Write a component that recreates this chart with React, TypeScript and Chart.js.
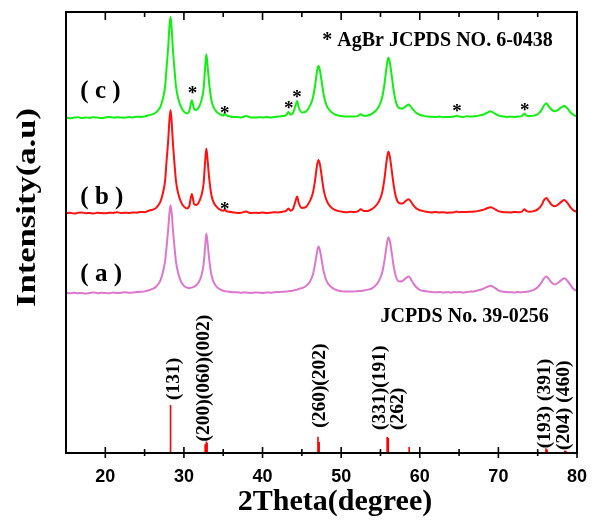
import React, { useEffect, useRef } from 'react';
import { Chart, registerables } from 'chart.js';

Chart.register(...registerables);

// 2Theta positions (degree)
const twoTheta = [
  15, 15.5, 16, 16.5, 17, 17.5, 18, 18.5, 19, 19.5,
  20, 20.5, 21, 21.5, 22, 22.5, 23, 23.5, 24, 24.5,
  25, 25.5, 26, 26.5, 27, 27.3, 27.6, 27.8, 28.0, 28.15,
  28.3, 28.45, 28.6, 28.8, 29.0, 29.3, 29.6, 30.0, 30.4, 30.7,
  31.0, 31.3, 31.6, 31.9, 32.2, 32.5, 32.7, 32.85, 33.0, 33.2,
  33.5, 33.8, 34.2, 34.6, 35.0, 35.2, 35.4, 35.8, 36.3, 36.8,
  37.3, 37.9, 38.5, 39, 39.5, 40, 40.5, 41, 41.5, 42,
  42.5, 43.0, 43.3, 43.6, 43.9, 44.2, 44.4, 44.6, 45.0, 45.5,
  46.0, 46.4, 46.7, 46.9, 47.1, 47.3, 47.5, 47.8, 48.2, 48.7,
  49.2, 49.7, 50.2, 50.7, 51.2, 51.7, 52.1, 52.5, 52.9, 53.4,
  53.9, 54.4, 54.8, 55.2, 55.5, 55.8, 56.0, 56.2, 56.4, 56.7,
  57.0, 57.4, 57.8, 58.2, 58.6, 59.0, 59.5, 60, 60.5, 61,
  61.5, 62, 62.5, 63, 63.5, 64, 64.4, 64.7, 65.0, 65.5,
  66, 66.5, 67, 67.5, 68, 68.5, 69, 69.5, 70, 70.5,
  71, 71.5, 72, 72.5, 73, 73.3, 73.6, 74, 74.5, 75,
  75.5, 75.8, 76.1, 76.4, 76.8, 77.2, 77.6, 78.0, 78.4, 78.8,
  79.2, 79.6, 80,
];

// intensity above each pattern's own baseline (a.u.)
const intensityA = [
  0.1, 0.0, 0.15, 0.05, 0.1, -0.05, 0.1, 0.2, 0.05, 0.15,
  0.1, 0.0, 0.2, 0.1, 0.15, 0.25, 0.15, 0.2, 0.3, 0.35,
  0.45, 0.7, 1.0, 1.6, 2.9, 4.6, 7.3, 10.6, 14.5, 18.0,
  20.0, 18.2, 14.5, 10.5, 7.0, 4.4, 2.8, 1.7, 1.3, 1.2,
  1.3, 1.5, 1.9, 2.6, 3.9, 6.5, 10.6, 13.6, 11.6, 8.0,
  4.2, 2.5, 1.4, 0.9, 0.6, 0.5, 0.45, 0.35, 0.25, 0.25,
  0.15, 0.2, 0.1, 0.2, 0.15, 0.1, 0.2, 0.15, 0.25, 0.3,
  0.35, 0.4, 0.5, 0.55, 0.65, 0.75, 0.85, 1.0, 1.2, 1.6,
  2.6, 4.2, 6.8, 9.0, 10.6, 9.8, 7.8, 4.8, 2.6, 1.5,
  0.9, 0.6, 0.45, 0.4, 0.4, 0.45, 0.5, 0.55, 0.65, 0.85,
  1.1, 1.8, 2.8, 4.6, 7.3, 11.0, 12.7, 11.8, 9.6, 6.0,
  3.6, 2.7, 2.8, 3.4, 3.8, 2.8, 1.5, 0.8, 0.55, 0.4,
  0.3, 0.25, 0.3, 0.2, 0.25, 0.2, 0.3, 0.25, 0.3, 0.2,
  0.3, 0.4, 0.5, 0.7, 1.0, 1.4, 1.7, 1.3, 0.7, 0.4,
  0.3, 0.25, 0.2, 0.3, 0.25, 0.3, 0.35, 0.5, 0.8, 1.4,
  2.5, 3.4, 3.8, 3.3, 2.4, 2.0, 2.4, 3.0, 3.4, 2.8,
  1.8, 0.9, 0.6,
];

const intensityB = [
  0.05, 0.15, -0.05, 0.1, 0.2, 0.0, 0.1, -0.05, 0.15, 0.05,
  0.0, 0.15, 0.1, 0.25, 0.05, 0.15, 0.1, 0.2, 0.15, 0.3,
  0.25, 0.6, 0.8, 1.3, 2.6, 4.4, 7.3, 12.0, 16.5, 21.0,
  23.4, 20.5, 16.0, 11.3, 7.2, 4.3, 2.7, 1.5, 1.1, 1.8,
  4.4, 2.1, 1.9, 2.5, 3.9, 6.7, 11.8, 14.7, 12.3, 8.2,
  4.1, 2.4, 1.4, 0.85, 0.6, 0.8, 0.5, 0.35, 0.2, 0.1,
  0.15, 0.4, 0.05, 0.15, 0.1, 0.2, 0.05, 0.15, 0.25, 0.2,
  0.35, 0.55, 1.1, 0.6, 1.1, 2.8, 3.8, 2.4, 1.2, 1.4,
  2.7, 4.6, 7.7, 10.5, 12.1, 11.1, 8.7, 5.1, 2.7, 1.4,
  0.8, 0.5, 0.35, 0.25, 0.35, 0.3, 0.45, 0.9, 0.5, 0.55,
  0.95, 1.7, 2.7, 4.6, 7.7, 12.1, 14.0, 12.8, 10.2, 6.2,
  3.5, 2.3, 2.2, 2.8, 3.2, 2.3, 1.2, 0.7, 0.5, 0.3,
  0.2, 0.3, 0.2, 0.25, 0.15, 0.2, 0.25, 0.4, 0.25, 0.3,
  0.3, 0.35, 0.4, 0.55, 0.75, 1.1, 1.4, 1.0, 0.5, 0.3,
  0.25, 0.2, 0.3, 0.25, 0.4, 0.9, 0.5, 0.35, 0.5, 0.9,
  1.9, 3.0, 3.5, 2.8, 1.9, 1.6, 2.0, 2.6, 3.0, 2.3,
  1.3, 0.6, 0.35,
];

const intensityC = [
  0.1, -0.1, 0.05, 0.15, -0.05, 0.1, 0.0, 0.15, 0.05, -0.05,
  0.1, 0.2, 0.05, 0.15, 0.1, 0.0, 0.2, 0.1, 0.25, 0.2,
  0.3, 0.6, 0.8, 1.3, 2.5, 4.2, 7.0, 11.5, 16.0, 20.5,
  22.9, 20.0, 15.5, 11.0, 7.0, 4.2, 2.6, 1.4, 1.0, 1.6,
  4.0, 2.0, 1.8, 2.4, 3.8, 6.5, 11.5, 14.4, 12.0, 8.0,
  4.0, 2.3, 1.3, 0.8, 0.55, 0.9, 0.55, 0.35, 0.2, 0.2,
  0.1, 0.4, 0.1, 0.05, 0.15, 0.1, 0.2, 0.1, 0.2, 0.3,
  0.4, 0.6, 1.3, 0.7, 1.2, 2.8, 3.8, 2.4, 1.2, 1.4,
  2.6, 4.5, 7.5, 10.2, 11.8, 10.8, 8.5, 5.0, 2.6, 1.4,
  0.8, 0.5, 0.35, 0.3, 0.3, 0.3, 0.4, 0.8, 0.45, 0.55,
  0.9, 1.6, 2.6, 4.5, 7.5, 11.8, 13.7, 12.5, 10.0, 6.0,
  3.4, 2.2, 2.1, 2.6, 3.0, 2.2, 1.2, 0.7, 0.45, 0.3,
  0.25, 0.2, 0.3, 0.15, 0.2, 0.2, 0.3, 0.5, 0.3, 0.2,
  0.35, 0.3, 0.35, 0.5, 0.7, 1.1, 1.5, 1.0, 0.5, 0.35,
  0.2, 0.25, 0.2, 0.3, 0.4, 1.0, 0.5, 0.4, 0.5, 0.8,
  1.8, 2.8, 3.3, 2.6, 1.8, 1.5, 1.8, 2.4, 2.7, 2.1,
  1.2, 0.6, 0.3,
];

// vertical stacking offsets of the three patterns
const offsetA = 36.2;
const offsetB = 54.35;
const offsetC = 76.0;

// JCPDS No. 39-0256 reference lines
const stickPos = [28.3, 32.7, 32.85, 32.95, 47.05, 47.2, 55.85, 56.0, 58.65, 76.05, 76.2, 78.45, 78.6];
const stickHeight = [10.9, 2.0, 2.6, 2.3, 3.7, 2.5, 3.6, 3.4, 1.35, 1.1, 0.8, 0.55, 0.45];

const stickLabels = ['(131)', '(200)(060)(002)', '(260)(202)', '(331)(191)', '(262)', '(193) (391)', '(204) (460)'];
const stickLabelX = [28.71, 32.6, 47.35, 55.0, 57.28, 75.98, 78.4];
const stickLabelY = [12.0, 2.6, 5.7, 5.2, 5.2, 1.1, 0.7];

// AgBr markers
const starX = [31.1, 35.18, 43.32, 44.39, 64.74, 73.35, 35.18];
const starY = [82.5, 78.0, 79.1, 81.6, 78.3, 78.5, 56.2];

const curveLabels = ['( c )', '( b )', '( a )'];
const curveLabelX = [16.82, 16.82, 16.82];
const curveLabelY = [81.9, 58.0, 40.4];

const xTickValues = [20, 30, 40, 50, 60, 70, 80];
const xMinorValues = [25, 35, 45, 55, 65, 75];

const SERIF = '"Liberation Serif", "Times New Roman", serif';
const SANS = '"Liberation Sans", Arial, sans-serif';

const overlay = {
  id: 'overlay',
  afterDraw(chart: any) {
    const { ctx, chartArea: ca, scales } = chart;
    const xs = scales.x;
    const ys = scales.y;
    ctx.save();
    ctx.strokeStyle = '#000';
    ctx.fillStyle = '#000';
    // frame
    ctx.lineWidth = 2;
    ctx.strokeRect(ca.left, ca.top, ca.right - ca.left, ca.bottom - ca.top);
    // ticks
    const seg = (x1: number, y1: number, x2: number, y2: number) => {
      ctx.beginPath();
      ctx.moveTo(x1, y1);
      ctx.lineTo(x2, y2);
      ctx.stroke();
    };
    ctx.lineWidth = 1.6;
    xTickValues.forEach((v) => {
      const px = xs.getPixelForValue(v);
      seg(px, ca.bottom - 6, px, ca.bottom + 5);
      seg(px, ca.top, px, ca.top + 8);
    });
    xMinorValues.forEach((v) => {
      const px = xs.getPixelForValue(v);
      seg(px, ca.bottom - 4, px, ca.bottom + 3);
      seg(px, ca.top, px, ca.top + 5);
    });

    // curve labels
    ctx.font = `bold 25px ${SERIF}`;
    ctx.textAlign = 'left';
    ctx.textBaseline = 'middle';
    curveLabels.forEach((t, i) => {
      ctx.fillText(t, xs.getPixelForValue(curveLabelX[i]), ys.getPixelForValue(curveLabelY[i]));
    });

    // legend-like texts
    ctx.font = `bold 20px ${SERIF}`;
    ctx.fillText('* AgBr JCPDS NO. 6-0438', xs.getPixelForValue(47.6), ys.getPixelForValue(93.4));
    ctx.fillText('JCPDS No. 39-0256', xs.getPixelForValue(55.0), ys.getPixelForValue(30.8));

    // stars
    ctx.font = `bold 19px ${SERIF}`;
    ctx.textAlign = 'center';
    ctx.textBaseline = 'alphabetic';
    starX.forEach((x, i) => {
      ctx.fillText('*', xs.getPixelForValue(x), ys.getPixelForValue(starY[i]) + 9.5);
    });

    // stick labels (rotated)
    ctx.font = `bold 19.5px ${SERIF}`;
    stickLabels.forEach((t, i) => {
      ctx.save();
      ctx.translate(xs.getPixelForValue(stickLabelX[i]), ys.getPixelForValue(stickLabelY[i]));
      ctx.rotate(-Math.PI / 2);
      ctx.textAlign = 'left';
      ctx.textBaseline = 'middle';
      ctx.fillText(t, 0, 0);
      ctx.restore();
    });

    // x title
    ctx.font = `bold 30px ${SERIF}`;
    ctx.textAlign = 'center';
    ctx.textBaseline = 'alphabetic';
    ctx.fillText('2Theta(degree)', 335, 510);

    // y title
    ctx.font = `bold 28px ${SERIF}`;
    const w = ctx.measureText('Intensity(a.u)').width;
    ctx.save();
    ctx.translate(27.5, 207.5);
    ctx.rotate(-Math.PI / 2);
    ctx.scale(199 / w, 1);
    ctx.textAlign = 'center';
    ctx.textBaseline = 'middle';
    ctx.fillText('Intensity(a.u)', 0, 0);
    ctx.restore();

    ctx.restore();
  },
};

export default function App() {
  const ref = useRef<HTMLCanvasElement | null>(null);
  useEffect(() => {
    document.body.style.margin = '0';
    const canvas = ref.current;
    if (!canvas) return;
    const mk = (arr: number[], off: number) => twoTheta.map((x, i) => ({ x, y: arr[i] + off }));
    const sticks: any[] = [];
    stickPos.forEach((x, i) => {
      sticks.push({ x, y: 0 });
      sticks.push({ x, y: stickHeight[i] });
      sticks.push({ x, y: null });
    });
    const lineDs = (label: string, data: any[], color: string) => ({
      label,
      data,
      borderColor: color,
      backgroundColor: color,
      borderWidth: 2,
      pointRadius: 0,
      fill: false,
      cubicInterpolationMode: 'monotone' as const,
    });
    const chart = new Chart(canvas, {
      type: 'line',
      data: {
        datasets: [
          { label: 'JCPDS', data: sticks, borderColor: '#ff0000', borderWidth: 1.6, pointRadius: 0, spanGaps: false, fill: false },
          lineDs('a', mk(intensityA, offsetA), '#dd77cc'),
          lineDs('b', mk(intensityB, offsetB), '#ff1111'),
          lineDs('c', mk(intensityC, offsetC), '#11ee11'),
        ],
      },
      options: {
        responsive: false,
        animation: false,
        devicePixelRatio: 1,
        layout: { padding: { left: 66, right: 16, top: 12, bottom: 0 } },
        plugins: { legend: { display: false }, tooltip: { enabled: false } },
        scales: {
          x: {
            type: 'linear',
            min: 15,
            max: 80,
            afterBuildTicks: (scale: any) => {
              scale.ticks = xTickValues.map((v) => ({ value: v }));
            },
            afterFit: (scale: any) => {
              scale.height = 71;
              scale.paddingLeft = 0;
              scale.paddingRight = 0;
            },
            grid: { display: false, drawTicks: false },
            border: { display: false },
            ticks: {
              color: '#000',
              padding: 13,
              maxRotation: 0,
              font: { family: SANS, weight: 'bold', size: 18 },
            },
          },
          y: { type: 'linear', min: 0, max: 100, display: false },
        },
      },
      plugins: [overlay],
    });
    return () => chart.destroy();
  }, []);
  return <canvas ref={ref} width={593} height={524} style={{ display: 'block' }} />;
}
